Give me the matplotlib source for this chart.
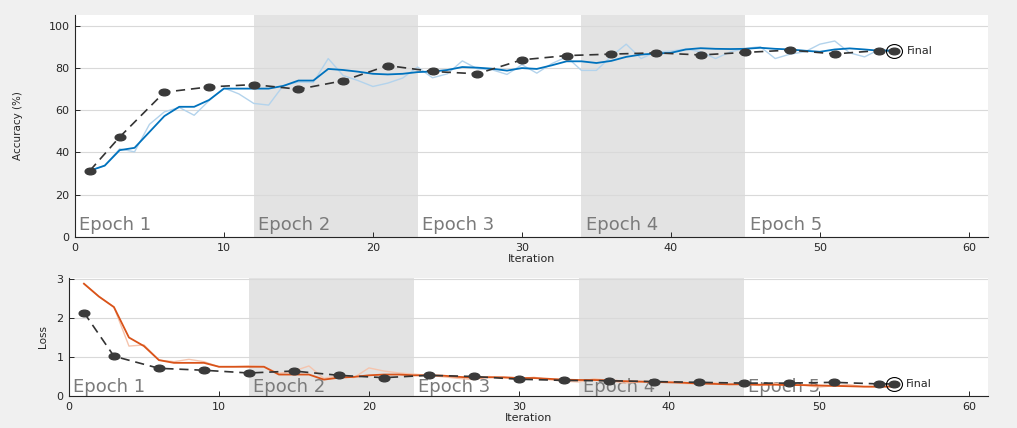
#!/usr/bin/python3
# -*- coding: utf8 -*-

import numpy as np
import matplotlib
matplotlib.use("Agg")
import matplotlib.pyplot as plt
from matplotlib.markers import MarkerStyle
from matplotlib.transforms import Affine2D
import matplotlib.transforms as mtransforms

# datos
iteraciones = list(range(1, 56))

acc_crudo = [31.4, 33.8, 41.7, 40.3, 53.3, 59.2, 61.3, 57.6, 64.5, 70.5,
             67.7, 63.2, 62.4, 71.8, 73.2, 73.1, 84.4, 76.4, 74.0, 71.2,
             72.8, 75.2, 80.4, 75.3, 77.2, 83.3, 79.6, 79.1, 76.9, 81.5,
             77.5, 82.0, 85.2, 78.8, 78.8, 85.5, 91.2, 84.4, 87.6, 87.9,
             88.9, 87.6, 84.4, 87.6, 89.2, 90.0, 84.4, 86.5, 87.6, 91.2,
             92.7, 87.1, 85.2, 88.7, 88.4]

acc_suave = [31.4, 33.8, 41.1, 42.2, 49.7, 57.2, 61.6, 61.6, 64.8, 70.2,
             70.2, 70.2, 70.2, 71.5, 74.0, 74.0, 79.5, 79.0, 78.2, 77.2,
             76.9, 77.2, 78.0, 78.3, 79.0, 80.4, 80.1, 79.6, 78.7, 79.9,
             79.5, 81.2, 83.1, 83.1, 82.3, 83.3, 85.2, 86.3, 86.8, 87.1,
             88.7, 89.3, 89.0, 88.9, 89.0, 89.5, 89.0, 88.7, 88.1, 87.6,
             88.7, 89.2, 88.7, 88.1, 88.1]

perdida_cruda = [2.88, 2.55, 2.28, 1.28, 1.31, 0.92, 0.88, 0.94, 0.88, 0.75,
                 0.75, 0.77, 0.75, 0.58, 0.64, 0.77, 0.45, 0.53, 0.47, 0.72,
                 0.64, 0.59, 0.56, 0.53, 0.49, 0.45, 0.42, 0.50, 0.46, 0.44,
                 0.48, 0.42, 0.38, 0.36, 0.44, 0.40, 0.33, 0.36, 0.34, 0.37,
                 0.32, 0.31, 0.34, 0.29, 0.31, 0.27, 0.33, 0.29, 0.27, 0.23,
                 0.26, 0.29, 0.24, 0.23, 0.25]

perdida_suave = [2.88, 2.55, 2.28, 1.50, 1.28, 0.92, 0.85, 0.85, 0.85, 0.75,
                 0.75, 0.75, 0.75, 0.55, 0.55, 0.55, 0.42, 0.47, 0.49, 0.53,
                 0.55, 0.55, 0.53, 0.53, 0.52, 0.49, 0.47, 0.48, 0.48, 0.46,
                 0.46, 0.44, 0.42, 0.41, 0.41, 0.40, 0.38, 0.37, 0.36, 0.35,
                 0.34, 0.32, 0.31, 0.30, 0.30, 0.29, 0.29, 0.28, 0.28, 0.27,
                 0.26, 0.25, 0.24, 0.24, 0.24]

val_iter = [1, 3, 6, 9, 12, 15, 18, 21, 24, 27, 30, 33, 36, 39, 42, 45, 48, 51, 54, 55]
val_acc = [31.4, 47.3, 68.5, 71.0, 72.1, 69.9, 73.9, 81.1, 78.3, 77.2,
           83.8, 85.8, 86.5, 87.1, 86.1, 87.3, 88.4, 86.6, 88.2, 87.9]
val_perdida = [2.14, 1.02, 0.71, 0.66, 0.59, 0.64, 0.53, 0.47, 0.53, 0.50,
               0.43, 0.40, 0.39, 0.37, 0.35, 0.33, 0.33, 0.35, 0.31, 0.31]

epocas = ["Epoch 1", "Epoch 2", "Epoch 3", "Epoch 4", "Epoch 5"]
epoca_inicio = [0, 12, 23, 34, 45]
epoca_fin = [12, 23, 34, 45, 56]

GRIS_FONDO = "#f0f0f0"
GRIS_EPOCA = "#e3e3e3"
OSCURO = "#262626"


def preparar_eje(ax, ymax, yticks):
	ax.set_facecolor("white")
	ax.set_xlim(0, 61.3)
	ax.set_ylim(0, ymax)
	ax.set_xticks([0, 10, 20, 30, 40, 50, 60])
	ax.set_yticks(yticks)
	ax.tick_params(direction="in", length=3.5, width=0.7, colors=OSCURO,
	               labelsize=8, pad=4)
	for lado in ["top", "right"]:
		ax.spines[lado].set_visible(False)
	for lado in ["left", "bottom"]:
		ax.spines[lado].set_color(OSCURO)
		ax.spines[lado].set_linewidth(0.8)
	ax.grid(axis="y", color="#d9d9d9", linewidth=0.8)
	ax.set_axisbelow(True)
	trans = mtransforms.blended_transform_factory(ax.transData, ax.transAxes)
	for i in range(len(epocas)):
		if i % 2 == 1:
			ax.axvspan(epoca_inicio[i], epoca_fin[i], color=GRIS_EPOCA, zorder=0, lw=0)
		ax.text(epoca_inicio[i] + 0.3, 0.03, epocas[i], transform=trans,
		        fontsize=13, color="#7a7a7a", va="baseline", ha="left", zorder=1)
	ax.set_xlabel("Iteration", fontsize=8, color=OSCURO, labelpad=1)


def graficar(ax, crudo, suave, val, col_crudo, col_suave):
	ax.plot(iteraciones, crudo, color=col_crudo, linewidth=1.0, zorder=2)
	ax.plot(iteraciones, suave, color=col_suave, linewidth=1.3, zorder=3)
	marca = MarkerStyle("o", transform=Affine2D().scale(1.6, 1.0))
	ax.plot(val_iter, val, color="#333333", linestyle=(0, (5.5, 3.5)), linewidth=1.2,
	        marker=marca, markersize=4.8, markerfacecolor="#3a3a3a",
	        markeredgecolor="#3a3a3a", zorder=4)
	circulo = MarkerStyle("o", transform=Affine2D().scale(1.15, 1.0))
	ax.plot([val_iter[-1]], [val[-1]], linestyle="none", marker=circulo, markersize=10,
	        markerfacecolor="none", markeredgecolor="black", markeredgewidth=0.8, zorder=5)
	ax.annotate("Final", (val_iter[-1], val[-1]), xytext=(9, 0), textcoords="offset points",
	            fontsize=8, color=OSCURO, va="center", ha="left")


fig = plt.figure(figsize=(10.17, 4.28), dpi=100, facecolor=GRIS_FONDO)

ax1 = fig.add_axes([0.0737, 0.446, 0.898, 0.519])
preparar_eje(ax1, 105, [0, 20, 40, 60, 80, 100])
graficar(ax1, acc_crudo, acc_suave, val_acc, "#b3d3ec", "#0072bd")
ax1.set_ylabel("Accuracy (%)", fontsize=7.5, color=OSCURO, labelpad=18)

ax2 = fig.add_axes([0.0678, 0.0748, 0.904, 0.276])
preparar_eje(ax2, 3.03, [0, 1, 2, 3])
graficar(ax2, perdida_cruda, perdida_suave, val_perdida, "#f5c4ad", "#d95319")
ax2.set_ylabel("Loss", fontsize=7.5, color=OSCURO, labelpad=6)

fig.savefig("out.png", dpi=100, facecolor=GRIS_FONDO)
